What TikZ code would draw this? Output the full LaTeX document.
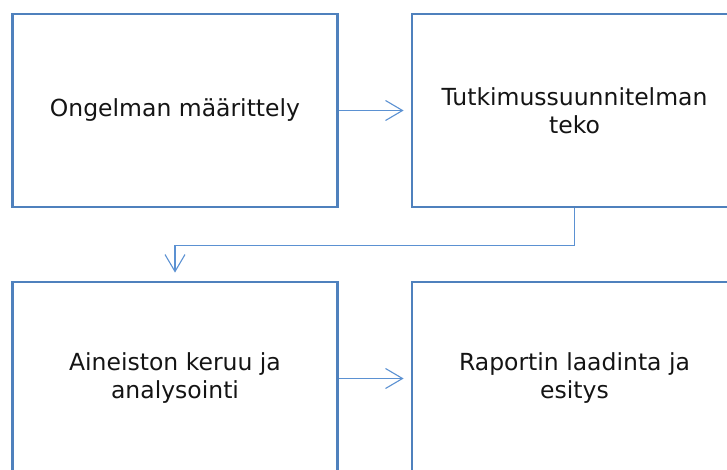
\documentclass[tikz,border=0pt]{standalone}
\usepackage{fontspec}
\setmainfont{DejaVu Sans}
\usetikzlibrary{arrows.meta}
\definecolor{boxblue}{RGB}{79,129,189}
\definecolor{linkblue}{RGB}{91,145,210}
\begin{document}
\begin{tikzpicture}[x=1pt,y=-1pt,
  stagebox/.style={draw=boxblue,line width=2.8pt,minimum width=325pt,minimum height=193pt,
    inner sep=0pt,align=center,font=\fontsize{23.5}{28}\selectfont,text=black!92},
  link/.style={draw=linkblue,line width=1.1pt,
    -{Straight Barb[length=17pt,width=20pt,line width=1.1pt]}}]
\useasboundingbox (0,0) rectangle (727,470);
\clip (0,0) rectangle (727,470);
\node[stagebox] (a) at (175,110.5) {Ongelman määrittely};
\node[stagebox] (b) at (574.5,110.5) {Tutkimussuunnitelman\\teko};
\node[stagebox] (c) at (175,378.5) {Aineiston keruu ja\\analysointi};
\node[stagebox] (d) at (574.5,378.5) {Raportin laadinta ja\\esitys};
\draw[link,shorten >=7pt] (a.east) -- (b.west);
\draw[link,shorten >=7pt] (c.east) -- (d.west);
\draw[link,shorten >=8pt] (b.south) -- ++(0,37) -| (c.north);
\end{tikzpicture}
\end{document}
